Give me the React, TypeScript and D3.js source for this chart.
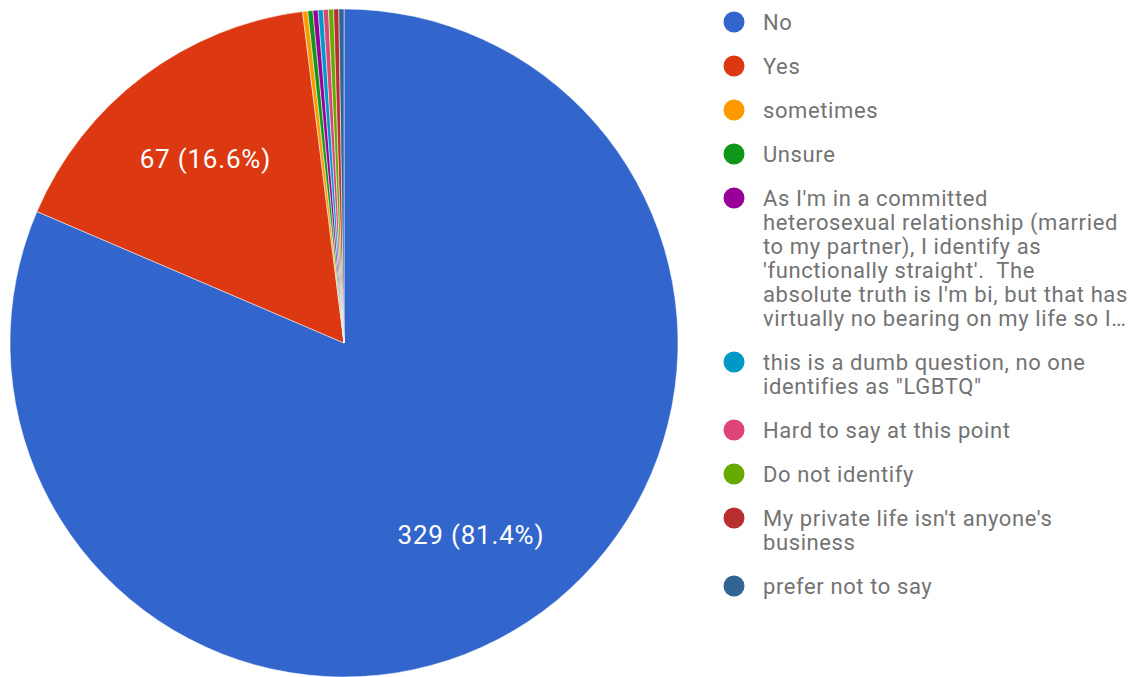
import { useMemo } from "react";
import * as d3 from "d3";

// Survey answers, in the order Google Forms lists them
const answers = [
  "No",
  "Yes",
  "sometimes",
  "Unsure",
  "As I'm in a committed heterosexual relationship",
  "this is a dumb question",
  "Hard to say at this point",
  "Do not identify",
  "My private life isn't anyone's business",
  "prefer not to say",
];
const counts = [329, 67, 1, 1, 1, 1, 1, 1, 1, 1];

// legend text, already wrapped the way the chart wraps it
const legendLines = [
  ["No"],
  ["Yes"],
  ["sometimes"],
  ["Unsure"],
  [
    "As I'm in a committed",
    "heterosexual relationship (married",
    "to my partner), I identify as",
    "'functionally straight'.  The",
    "absolute truth is I'm bi, but that has",
    "virtually no bearing on my life so I…",
  ],
  ["this is a dumb question, no one", "identifies as \"LGBTQ\""],
  ["Hard to say at this point"],
  ["Do not identify"],
  ["My private life isn't anyone's", "business"],
  ["prefer not to say"],
];

const palette = [
  "#3366cc",
  "#dc3912",
  "#ff9900",
  "#109618",
  "#990099",
  "#0099c6",
  "#dd4477",
  "#66aa00",
  "#b82e2e",
  "#316395",
];

const W = 1141;
const H = 677;
const FONT = "Roboto, 'Noto Sans', Arial, sans-serif";

export default function App() {
  const cx = 344;
  const cy = 343;
  const r = 334;

  const total = d3.sum(counts);

  const arcs = useMemo(
    () =>
      d3
        .pie<number>()
        .sort(null)
        .value((d) => d)(counts),
    [],
  );

  const arc = d3.arc<d3.PieArcDatum<number>>().innerRadius(0).outerRadius(r);
  // labels sit at ~69% of the radius
  const labelArc = d3
    .arc<d3.PieArcDatum<number>>()
    .innerRadius(r * 0.69)
    .outerRadius(r * 0.69);

  const color = d3.scaleOrdinal<string, string>().domain(answers).range(palette);

  // legend layout: fixed step per entry plus extra per wrapped line
  const legendX = 734;
  const textX = 763;
  const rowStep = 44;
  const lineH = 24;
  const rowY: number[] = [];
  let y = 22;
  legendLines.forEach((lines) => {
    rowY.push(y);
    y += rowStep + (lines.length - 1) * lineH;
  });

  return (
    <div style={{ position: "absolute", left: 0, top: 0 }}>
      <svg width={W} height={H} style={{ display: "block", background: "#fff" }}>
        <g transform={`translate(${cx},${cy})`}>
          {arcs.map((a, i) => (
            <path
              key={answers[i]}
              d={arc(a) ?? ""}
              fill={color(answers[i])}
              stroke="#fff"
              strokeWidth={0.5}
            />
          ))}
          {arcs
            .filter((a) => a.data / total > 0.05)
            .map((a) => {
              const [lx, ly] = labelArc.centroid(a);
              return (
                <text
                  key={`lbl-${a.index}`}
                  x={lx}
                  y={ly}
                  textAnchor="middle"
                  dominantBaseline="central"
                  fill="#fff"
                  fontFamily={FONT}
                  fontSize={26}
                  letterSpacing={0.8}
                >
                  {`${a.data} (${((a.data / total) * 100).toFixed(1)}%)`}
                </text>
              );
            })}
        </g>

        {legendLines.map((lines, i) => (
          <g key={`leg-${i}`}>
            <circle cx={legendX} cy={rowY[i]} r={10.5} fill={color(answers[i])} />
            <text
              fontFamily={FONT}
              fontSize={22}
              letterSpacing={0.6}
              fill="#737373"
              style={{ whiteSpace: "pre" }}
            >
              {lines.map((ln, j) => (
                <tspan key={j} x={textX} y={rowY[i] + j * lineH} dy="0.36em">
                  {ln}
                </tspan>
              ))}
            </text>
          </g>
        ))}
      </svg>
    </div>
  );
}
